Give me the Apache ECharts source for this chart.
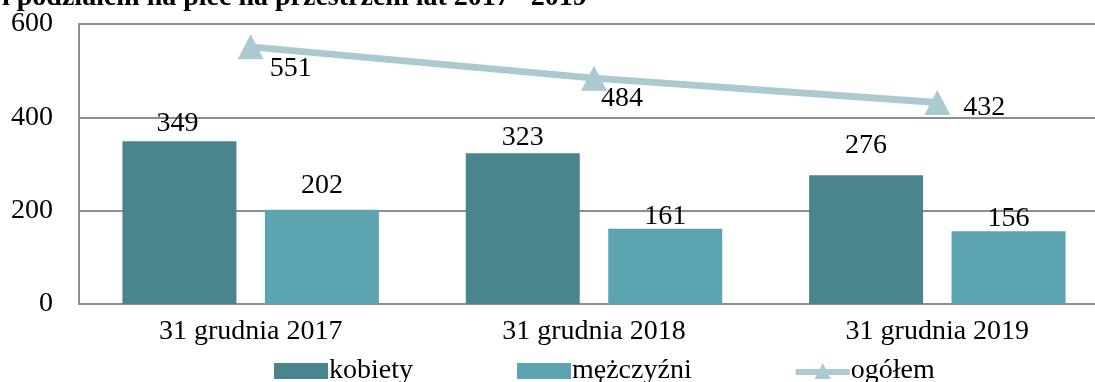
<!DOCTYPE html>
<html lang="pl">
<head>
<meta charset="utf-8">
<title>kobiety / mężczyźni / ogółem</title>
<script src="https://cdn.jsdelivr.net/npm/echarts@6/dist/echarts.min.js"></script>
<style>
  html, body { margin: 0; padding: 0; background: #ffffff; overflow: hidden; }
  /* the plot runs slightly past the right edge of the page */
  #chart { width: 1110px; height: 382px; }
</style>
</head>
<body>
<div id="chart"></div>
<script>
// Categories and series values
const categories = ['31 grudnia 2017', '31 grudnia 2018', '31 grudnia 2019'];
const kobiety = [349, 323, 276];
const mezczyzni = [202, 161, 156];
const ogolem = [551, 484, 432];
const yTicks = [0, 200, 400, 600];

// Manual label nudges (pixels) per point, [dx, dy]
const kobietyLabelShift = [[-2, -3], [0, -2], [0, -16]];
const mezczyzniLabelShift = [[0, -10], [0, 2], [0, 1]];
const ogolemLabelShift = [[40, 22], [28, 21], [47, 5]];

const FONT = "'Liberation Serif', 'Times New Roman', serif";
const C_K = '#4a858e';
const C_M = '#5ba4b0';
const C_O = '#abc9d0';

// legend key for the total: thick line with a triangle in the middle
const LINE_KEY = 'path://M0,6 L24,6 L27,0 L30,6 L54,6 L54,12 L33,12 L35,16 L19,16 L21,12 L0,12 Z';

const chart = echarts.init(document.getElementById('chart'), null, { renderer: 'canvas' });

function withLabels(values, shifts) {
  return values.map((v, i) => ({
    value: v,
    label: { offset: shifts[i] }
  }));
}

const option = {
  animation: false,
  backgroundColor: '#ffffff',
  textStyle: { fontFamily: FONT },
  title: {
    text: 'i podziałem na płeć na przestrzeni lat 2017– 2019',
    left: -3,
    top: -21,
    textStyle: { fontFamily: FONT, fontSize: 28, fontWeight: 'bold', color: '#000000' }
  },
  grid: { left: 79, top: 24, width: 1030, bottom: 78, containLabel: false },
  legend: {
    left: 269,
    top: 352,
    itemWidth: 54,
    itemHeight: 16,
    itemGap: 104,
    textStyle: { fontFamily: FONT, fontSize: 28, color: '#000000', padding: [0, 0, 0, -4] },
    data: [
      { name: 'kobiety', icon: 'rect' },
      { name: 'mężczyźni', icon: 'rect' },
      { name: 'ogółem', icon: LINE_KEY, itemStyle: { color: C_O } }
    ]
  },
  xAxis: {
    type: 'category',
    data: categories,
    axisLine: { show: true, lineStyle: { color: '#8e8e8e', width: 2 } },
    axisTick: { show: false },
    axisLabel: { fontFamily: FONT, fontSize: 28, color: '#000000', margin: 14 }
  },
  yAxis: {
    type: 'value',
    min: yTicks[0],
    max: yTicks[yTicks.length - 1],
    interval: yTicks[1] - yTicks[0],
    axisLine: { show: true, lineStyle: { color: '#8e8e8e', width: 2 } },
    axisTick: { show: false },
    splitLine: { show: true, lineStyle: { color: '#8e8e8e', width: 2 } },
    axisLabel: { fontFamily: FONT, fontSize: 28, color: '#000000', margin: 26 }
  },
  series: [
    {
      name: 'kobiety',
      type: 'bar',
      data: withLabels(kobiety, kobietyLabelShift),
      barWidth: '33.2%',
      barGap: '25%',
      itemStyle: { color: C_K },
      label: { show: true, position: 'top', distance: 0, fontFamily: FONT, fontSize: 28, color: '#000000' }
    },
    {
      name: 'mężczyźni',
      type: 'bar',
      data: withLabels(mezczyzni, mezczyzniLabelShift),
      barWidth: '33.2%',
      barGap: '25%',
      itemStyle: { color: C_M },
      label: { show: true, position: 'top', distance: 0, fontFamily: FONT, fontSize: 28, color: '#000000' }
    },
    {
      name: 'ogółem',
      type: 'line',
      data: withLabels(ogolem, ogolemLabelShift),
      symbol: 'triangle',
      symbolSize: [26, 25],
      lineStyle: { color: C_O, width: 7 },
      itemStyle: { color: C_O },
      z: 5,
      label: { show: true, position: 'inside', fontFamily: FONT, fontSize: 28, color: '#000000' }
    }
  ]
};

chart.setOption(option);
</script>
</body>
</html>
